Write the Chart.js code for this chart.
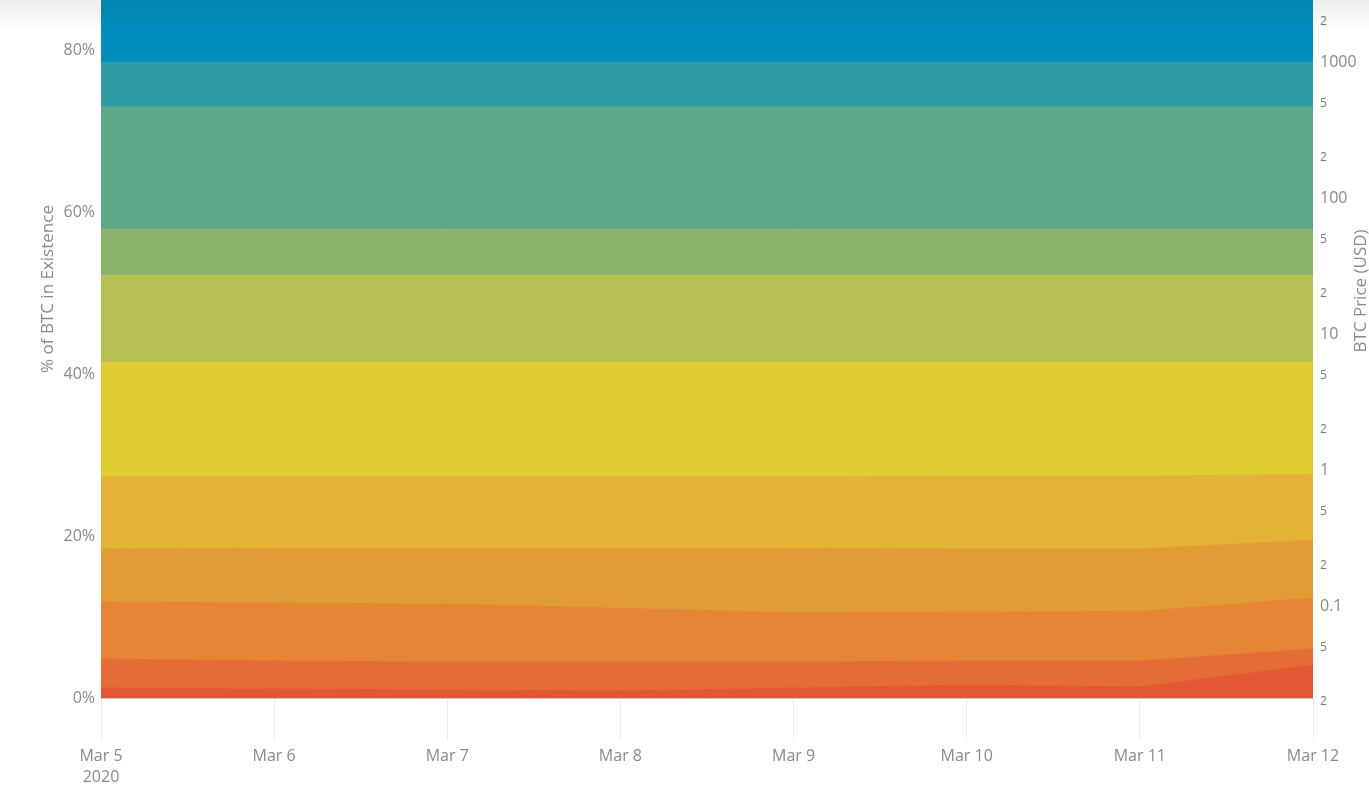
<!DOCTYPE html>
<html>
<head>
<meta charset="utf-8">
<script src="https://cdn.jsdelivr.net/npm/chart.js@4/dist/chart.umd.min.js"></script>
<style>
  html, body { margin: 0; padding: 0; background: #fff; }
  #wrap { position: relative; width: 1369px; height: 793px; }
  #shade { position: absolute; left: 0; top: 0; width: 1369px; height: 30px;
    background: linear-gradient(rgba(0,0,0,0.07), rgba(0,0,0,0)); pointer-events: none; }
</style>
</head>
<body>
<div id="wrap"><canvas id="chart" width="1369" height="793"></canvas><div id="shade"></div></div>
<script>
// categories
const dates = ["Mar 5", "Mar 6", "Mar 7", "Mar 8", "Mar 9", "Mar 10", "Mar 11", "Mar 12"];
const yearLabel = "2020";

// % of BTC in each price band (bottom band first), stacked
const band1 = [1.23, 1.11, 0.99, 0.86, 1.23, 1.60, 1.36, 4.07];
const band2 = [3.58, 3.46, 3.45, 3.58, 3.21, 2.97, 3.21, 1.98];
const band3 = [7.04, 7.16, 7.16, 6.66, 6.06, 6.03, 6.13, 6.30];
const band4 = [6.55, 6.77, 6.90, 7.40, 8.00, 7.80, 7.70, 7.15];
const band5 = [8.90, 8.80, 8.80, 8.80, 8.80, 9.00, 9.00, 8.10];
const band6 = [14.1, 14.1, 14.1, 14.1, 14.1, 14.0, 14.0, 13.8];
const band7 = [10.8, 10.8, 10.8, 10.8, 10.8, 10.8, 10.8, 10.8];
const band8 = [5.7, 5.7, 5.7, 5.7, 5.7, 5.7, 5.7, 5.7];
const band9 = [15.1, 15.1, 15.1, 15.1, 15.1, 15.1, 15.1, 15.1];
const band10 = [5.5, 5.5, 5.5, 5.5, 5.5, 5.5, 5.5, 5.5];
const band11 = [21.5, 21.5, 21.5, 21.5, 21.5, 21.5, 21.5, 21.5];

// tick labels
const pctTicks = [0, 20, 40, 60, 80];
const priceTicks = [0.02, 0.05, 0.1, 0.2, 0.5, 1, 2, 5, 10, 20, 50, 100, 200, 500, 1000, 2000];

const leftTitle = "% of BTC in Existence";
const rightTitle = "BTC Price (USD)";

const bands = [band1, band2, band3, band4, band5, band6, band7, band8, band9, band10, band11];
const colors = ["#e35734", "#e36d35", "#e58535", "#e29c35", "#e4b336", "#e2cc33",
                "#b9c154", "#8ab46c", "#5ca888", "#2d9ca4", "#018ebe"];

const fontFam = '"Open Sans", "Liberation Sans", Arial, sans-serif';
const gray = "#8a8a8a";

// axis titles drawn by hand so they sit where the original has them
const axisTitles = {
  id: "axisTitles",
  afterDraw(chart) {
    const c = chart.ctx;
    [[leftTitle, 48, 289], [rightTitle, 1361, 291]].forEach(([t, x, y]) => {
      c.save();
      c.fillStyle = gray;
      c.font = "17px " + fontFam;
      c.textAlign = "center";
      c.textBaseline = "middle";
      c.translate(x, y);
      c.rotate(-Math.PI / 2);
      c.fillText(t, 0, 0);
      c.restore();
    });
  }
};

function mantissa(v) {
  const e = Math.floor(Math.log10(v) + 1e-9);
  return Math.round(v / Math.pow(10, e));
}

const ctx = document.getElementById("chart");
const chart = new Chart(ctx, {
  type: "line",
  data: {
    labels: dates,
    datasets: bands.map((b, i) => ({
      label: "band " + (i + 1),
      data: b,
      backgroundColor: colors[i],
      borderColor: colors[i],
      borderWidth: 1,
      pointRadius: 0,
      tension: 0,
      fill: i === 0 ? "origin" : "-1",
      yAxisID: "y"
    }))
  },
  options: {
    responsive: false,
    animation: false,
    layout: { padding: 0 },
    plugins: { legend: { display: false }, tooltip: { enabled: false } },
    scales: {
      x: {
        type: "category",
        offset: false,
        grid: { drawOnChartArea: false, drawTicks: true, tickLength: 42, color: "#ececec" },
        border: { color: "#c8c8c8" },
        ticks: {
          color: gray,
          font: { family: fontFam, size: 16, lineHeight: 1.3 },
          padding: 6,
          maxRotation: 0,
          autoSkip: false,
          callback: function (v, i) {
            return i === 0 ? [dates[i], yearLabel] : dates[i];
          }
        },
        afterFit(s) { s.height = 95; s.paddingLeft = 0; s.paddingRight = 0; }
      },
      y: {
        position: "left",
        stacked: true,
        min: 0,
        max: 86.2,
        grid: { display: false, drawTicks: false },
        border: { display: false },
        ticks: {
          color: gray,
          font: { family: fontFam, size: 16 },
          padding: 6,
          callback: v => v + "%"
        },
        afterBuildTicks(s) { s.ticks = pctTicks.map(v => ({ value: v })); },
        afterFit(s) { s.width = 101; s.paddingTop = 0; s.paddingBottom = 0; }
      },
      price: {
        type: "logarithmic",
        position: "right",
        min: 0.0213,
        max: 2900,
        bounds: "data",
        grid: { display: false, drawTicks: false },
        border: { display: false },
        ticks: {
          padding: 7,
          color: ctx => mantissa(ctx.tick.value) === 1 ? gray : "#777",
          font: ctx => ({ family: fontFam, size: mantissa(ctx.tick.value) === 1 ? 16 : 12 }),
          callback: v => mantissa(v) === 1 ? String(v) : String(mantissa(v))
        },
        afterBuildTicks(s) { s.ticks = priceTicks.map(v => ({ value: v })); },
        afterFit(s) { s.width = 56; s.paddingTop = 0; s.paddingBottom = 0; }
      }
    }
  },
  plugins: [axisTitles]
});
</script>
</body>
</html>
